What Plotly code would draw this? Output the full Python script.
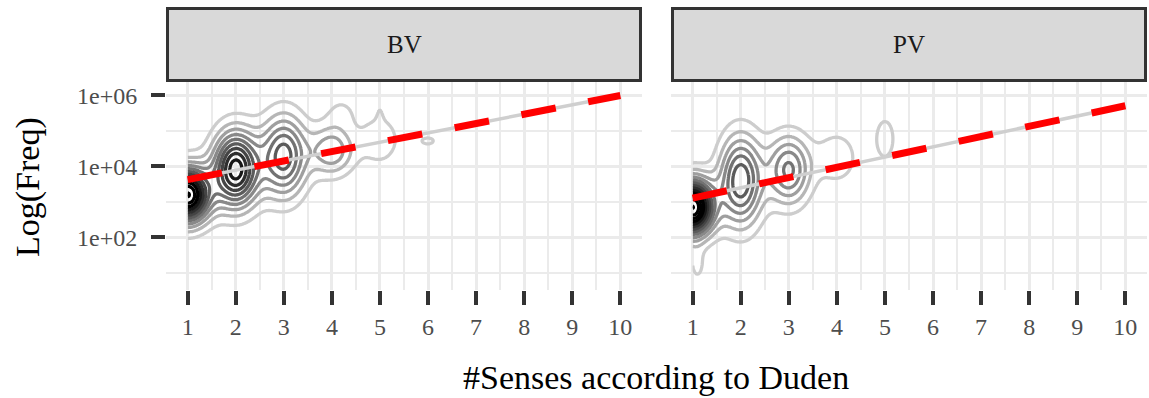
import numpy as np
import plotly.graph_objects as go

FONT = "Liberation Serif"
W, H = 1149, 398

# ---- data -------------------------------------------------------------
facets = ["BV", "PV"]
sense_ticks = list(range(1, 11))
freq_tick_pos = [2, 4, 6]                      # log10(freq)
freq_tick_text = ["1e+02", "1e+04", "1e+06"]
freq_minor_pos = [1, 3, 5]

# density clusters (senses, log10 freq) per verb type
bv_cx = [1.0, 2.0, 3.0, 4.0, 4.2, 5.0, 5.0, 6.0]
bv_cy = [3.20, 3.92, 4.28, 4.45, 5.55, 4.75, 5.65, 4.72]
bv_sx = [0.32, 0.33, 0.33, 0.32, 0.25, 0.32, 0.07, 0.24]
bv_sy = [0.55, 0.74, 0.80, 0.50, 0.35, 0.55, 0.30, 0.18]
bv_pk = [12.0, 9.5, 6.5, 3.8, 1.0, 1.6, 0.5, 1.1]

pv_cx = [1.0, 1.1, 2.0, 3.0, 4.0, 5.0]
pv_cy = [2.85, 1.20, 3.60, 3.90, 4.25, 4.78]
pv_sx = [0.30, 0.12, 0.31, 0.31, 0.32, 0.17]
pv_sy = [0.55, 0.35, 0.88, 0.68, 0.55, 0.50]
pv_pk = [13.0, 1.2, 6.8, 5.2, 1.7, 1.6]

# density grid extent (senses / log10 freq)
bv_xlim, bv_ylim = [1.0, 10.0], [1.4, 6.25]
pv_xlim, pv_ylim = [1.0, 10.0], [0.72, 6.0]

# linear fit of log10 freq on senses, evaluated at senses 1 and 10
bv_fit = [3.63, 6.00]
pv_fit = [3.11, 5.71]
fit_x = [1, 10]


def density(cx, cy, sx, sy, pk, xlim, ylim):
    gx = np.linspace(xlim[0], xlim[1], 320)
    gy = np.linspace(ylim[0], ylim[1], 260)
    X, Y = np.meshgrid(gx, gy)
    Z = np.zeros_like(X)
    for a, b, s1, s2, p in zip(cx, cy, sx, sy, pk):
        Z += p * np.exp(-0.5 * ((X - a) / s1) ** 2 - 0.5 * ((Y - b) / s2) ** 2)
    return gx, gy, Z


panels = [
    (bv_cx, bv_cy, bv_sx, bv_sy, bv_pk, bv_xlim, bv_ylim, bv_fit),
    (pv_cx, pv_cy, pv_sx, pv_sy, pv_pk, pv_xlim, pv_ylim, pv_fit),
]

fig = go.Figure()
for i, (cx, cy, sx, sy, pk, xl, yl, fit) in enumerate(panels):
    xa = "x" if i == 0 else "x2"
    ya = "y" if i == 0 else "y2"
    gx, gy, Z = density(cx, cy, sx, sy, pk, xl, yl)
    fig.add_trace(go.Contour(
        x=gx, y=gy, z=Z, xaxis=xa, yaxis=ya,
        contours=dict(coloring="lines", start=1, end=30, size=1),
        colorscale=[[0, "#cdcdcd"], [1, "#000000"]],
        zmin=1, zmax=10, showscale=False,
        line=dict(width=3.3, smoothing=1.0),
        hoverinfo="skip",
    ))
    fig.add_trace(go.Scatter(
        x=fit_x, y=fit, xaxis=xa, yaxis=ya, mode="lines",
        line=dict(color="#cfcfcf", width=3.5), hoverinfo="skip",
    ))
    fig.add_trace(go.Scatter(
        x=fit_x, y=fit, xaxis=xa, yaxis=ya, mode="lines",
        line=dict(color="#ff0000", width=7, dash="35px,33px"),
        hoverinfo="skip",
    ))

# ---- layout -----------------------------------------------------------
px_l = [166, 671]
px_r = [642, 1147]
panel_top, panel_bot = 82, 290
strip_top = 7

grid_major = "#ebebeb"
tick_font = dict(family=FONT, size=24, color="#4d4d4d")

xaxis_common = dict(
    range=[0.55, 10.45], tickmode="array", tickvals=sense_ticks,
    ticks="outside", ticklen=14, tickwidth=4, tickcolor="#333333",
    showgrid=True, gridcolor=grid_major, gridwidth=3,
    minor=dict(tickmode="array",
               tickvals=[v + 0.5 for v in [0] + sense_ticks],
               showgrid=True, gridcolor=grid_major, gridwidth=1.8),
    zeroline=False, showline=False, tickfont=tick_font,
    ticklabelstandoff=1, fixedrange=True,
)
yaxis_common = dict(
    range=[0.52, 6.38], tickmode="array", tickvals=freq_tick_pos,
    ticktext=freq_tick_text,
    showgrid=True, gridcolor=grid_major, gridwidth=3,
    minor=dict(tickmode="array", tickvals=freq_minor_pos,
               showgrid=True, gridcolor=grid_major, gridwidth=1.8),
    zeroline=False, showline=False, tickfont=tick_font, fixedrange=True,
)

ydom = [1 - panel_bot / H, 1 - panel_top / H]
fig.update_layout(
    width=W, height=H,
    margin=dict(l=0, r=0, t=0, b=0),
    paper_bgcolor="white", plot_bgcolor="white",
    showlegend=False,
    xaxis=dict(domain=[px_l[0] / W, px_r[0] / W], anchor="y", **xaxis_common),
    xaxis2=dict(domain=[px_l[1] / W, px_r[1] / W], anchor="y2", **xaxis_common),
    yaxis=dict(domain=ydom, anchor="x", ticks="outside", ticklen=14,
               tickwidth=4, tickcolor="#333333", ticklabelstandoff=9,
               **yaxis_common),
    yaxis2=dict(domain=ydom, anchor="x2", ticks="", showticklabels=False,
                **yaxis_common),
)

shapes = []
annotations = []
for i, name in enumerate(facets):
    shapes.append(dict(
        type="rect", xref="paper", yref="paper",
        x0=(px_l[i] + 1.5) / W, x1=(px_r[i] - 1.5) / W,
        y0=1 - (panel_top - 1.5) / H, y1=1 - (strip_top + 1.5) / H,
        fillcolor="#d9d9d9", line=dict(color="#333333", width=3),
        layer="above",
    ))
    annotations.append(dict(
        text=name, xref="paper", yref="paper",
        x=(px_l[i] + px_r[i]) / 2 / W, y=1 - 45 / H,
        xanchor="center", yanchor="middle", showarrow=False,
        font=dict(family=FONT, size=25, color="#1a1a1a"),
    ))

annotations.append(dict(
    text="Log(Freq)", xref="paper", yref="paper",
    x=28 / W, y=1 - 187 / H, textangle=-90,
    xanchor="center", yanchor="middle", showarrow=False,
    font=dict(family=FONT, size=34, color="#000000"),
))
annotations.append(dict(
    text="#Senses according to Duden", xref="paper", yref="paper",
    x=656 / W, y=1 - 377 / H,
    xanchor="center", yanchor="middle", showarrow=False,
    font=dict(family=FONT, size=34, color="#000000"),
))
fig.update_layout(shapes=shapes, annotations=annotations)

fig.write_html("out.html")
